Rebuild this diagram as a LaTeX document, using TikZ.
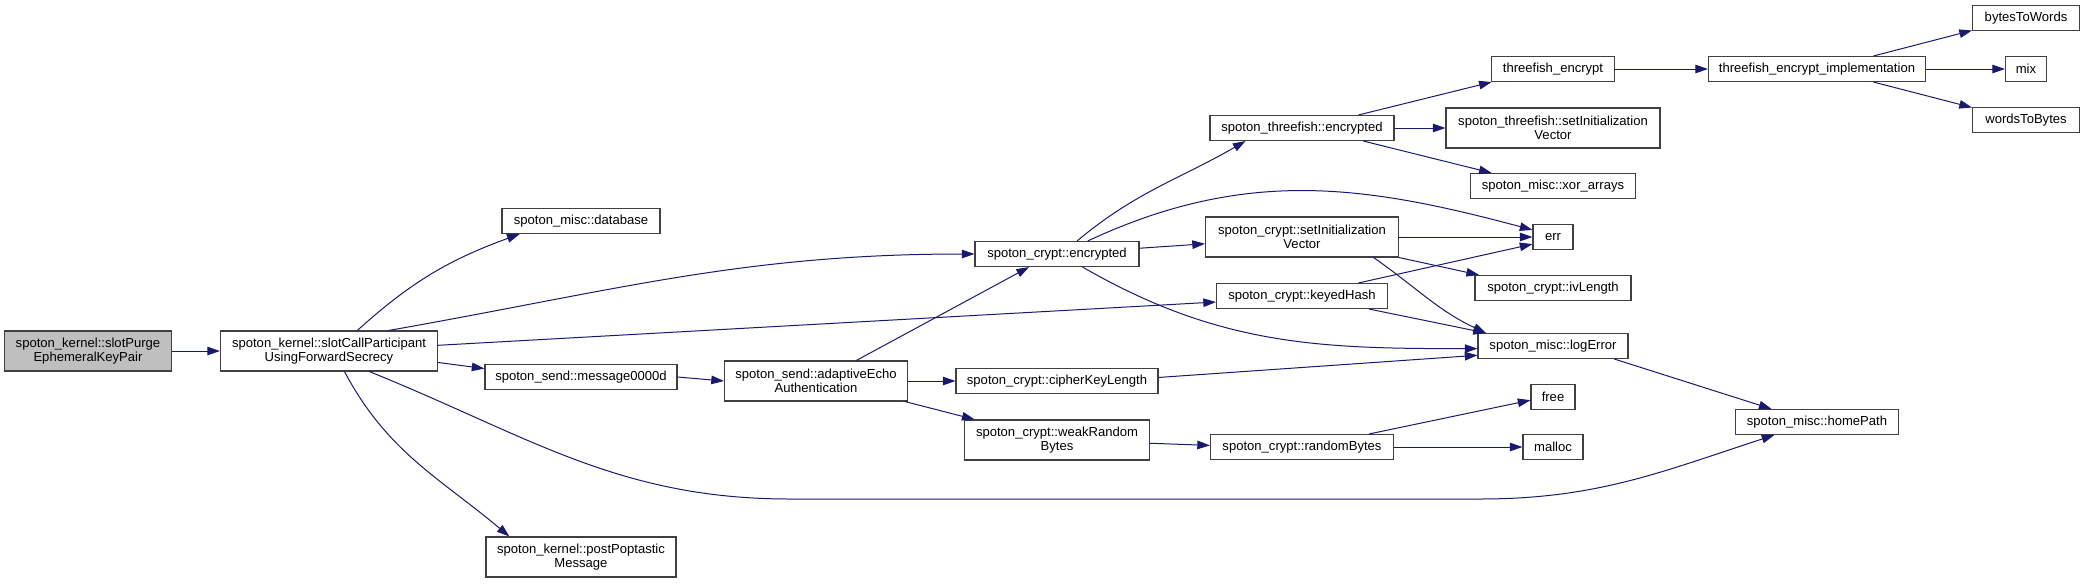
\documentclass[tikz,border=0pt]{standalone}
\usepackage{fontspec}
\setmainfont{Liberation Sans}
\usetikzlibrary{arrows.meta}
\definecolor{edgeblue}{HTML}{191970}
\definecolor{boxgray}{HTML}{404040}
\definecolor{startgray}{HTML}{BFBFBF}

\begin{document}
\begin{tikzpicture}[x=0.75pt, y=0.75pt,
    fn/.style={rectangle, draw=boxgray, line width=0.8pt, fill=white, inner sep=0pt,
      minimum height=18.75pt, align=center, font=\fontsize{9.8}{10.5}\selectfont},
    fntwo/.style={fn, minimum height=30pt},
    callarrow/.style={draw=edgeblue, line width=0.75pt, -{Triangle[length=9.5pt, width=6.4pt]}}]

    \useasboundingbox (0,0) rectangle (2085,-583);

    % Define function boxes with coordinates
    \node[fntwo, fill=startgray, minimum width=125.25pt] (purge) at (88,-351) {spoton\_kernel::slotPurge\\EphemeralKeyPair};
    \node[fntwo, minimum width=162.75pt] (slotcall) at (329,-351) {spoton\_kernel::slotCallParticipant\\UsingForwardSecrecy};
    \node[fn, minimum width=118.5pt] (db) at (581,-221) {spoton\_misc::database};
    \node[fn, minimum width=144pt] (msg) at (581,-377) {spoton\_send::message0000d};
    \node[fntwo, minimum width=142.5pt] (post) at (581,-557) {spoton\_kernel::postPoptastic\\Message};
    \node[fntwo, minimum width=137.25pt] (echo) at (816,-381) {spoton\_send::adaptiveEcho\\Authentication};
    \node[fn, minimum width=123pt] (cenc) at (1057,-254) {spoton\_crypt::encrypted};
    \node[fn, minimum width=151.5pt] (ckey) at (1057,-381) {spoton\_crypt::cipherKeyLength};
    \node[fntwo, minimum width=138.75pt] (weak) at (1057,-440) {spoton\_crypt::weakRandom\\Bytes};
    \node[fn, minimum width=138pt] (tenc) at (1302,-128) {spoton\_threefish::encrypted};
    \node[fntwo, minimum width=144.75pt] (csiv) at (1302,-237) {spoton\_crypt::setInitialization\\Vector};
    \node[fn, minimum width=128.25pt] (khash) at (1302,-296) {spoton\_crypt::keyedHash};
    \node[fn, minimum width=137.25pt] (rbytes) at (1302,-447) {spoton\_crypt::randomBytes};
    \node[fn, minimum width=92.25pt] (tfe) at (1553,-69) {threefish\_encrypt};
    \node[fntwo, minimum width=160.5pt] (tsiv) at (1553,-128) {spoton\_threefish::setInitialization\\Vector};
    \node[fn, minimum width=123.75pt] (xor) at (1553,-186) {spoton\_misc::xor\_arrays};
    \node[fn, minimum width=30pt] (err) at (1553,-237) {err};
    \node[fn, minimum width=117pt] (ivlen) at (1553,-288) {spoton\_crypt::ivLength};
    \node[fn, minimum width=112.5pt] (logerr) at (1553,-346) {spoton\_misc::logError};
    \node[fn, minimum width=33pt] (free) at (1553,-397) {free};
    \node[fn, minimum width=45pt] (malloc) at (1553,-447) {malloc};
    \node[fn, minimum width=162.75pt] (impl) at (1817,-69) {threefish\_encrypt\_implementation};
    \node[fn, minimum width=122.25pt] (home) at (1817,-422) {spoton\_misc::homePath};
    \node[fn, minimum width=80.25pt] (b2w) at (2026,-18) {bytesToWords};
    \node[fn, minimum width=30.75pt] (mix) at (2026,-69) {mix};
    \node[fn, minimum width=80.25pt] (w2b) at (2026,-120) {wordsToBytes};
    \coordinate (lowA) at (790,-499);
    \coordinate (lowB) at (1480,-499);

    % Draw the calls between the functions
    \draw[callarrow] (purge) -- (slotcall);
    \draw[callarrow] (slotcall.36) to[out=42,in=200] (db.192);
    \draw[callarrow] (slotcall.19) to[out=10,in=180] (cenc.west);
    \draw[callarrow] (slotcall.3) -- (khash.184);
    \draw[callarrow] (slotcall.-6) -- (msg.175);
    \draw[callarrow] (slotcall.-27) to[out=-22,in=180] (lowA) -- (lowB) to[out=0,in=198] (home.-163);
    \draw[callarrow] (slotcall.-53) to[out=-62,in=140] (post.164);
    \draw[callarrow] (msg.east) -- (echo.west);
    \draw[callarrow] (echo.27) -- (cenc.205);
    \draw[callarrow] (echo.east) -- (ckey.west);
    \draw[callarrow] (echo.-13) -- (weak.166);
    \draw[callarrow] (weak.-2) -- (rbytes.179);
    \draw[callarrow] (cenc.33) to[out=40,in=210] (tenc.193);
    \draw[callarrow] (cenc.23) to[out=25,in=165] (err.161);
    \draw[callarrow] (cenc.4) -- (csiv.184);
    \draw[callarrow] (cenc.-27) to[out=-30,in=180] (logerr.182);
    \draw[callarrow] (csiv.east) -- (err.west);
    \draw[callarrow] (csiv.south east) -- (ivlen.170);
    \draw[callarrow] (csiv.-16) to[out=-35,in=155] (logerr.169);
    \draw[callarrow] (khash.13) -- (err.199);
    \draw[callarrow] (khash.-11) -- (logerr.169);
    \draw[callarrow] (ckey.2) -- (logerr.187);
    \draw[callarrow] (rbytes.11) -- (free.188);
    \draw[callarrow] (rbytes.east) -- (malloc.west);
    \draw[callarrow] (logerr.-12) -- (home.164);
    \draw[callarrow] (tenc.13) -- (tfe.192);
    \draw[callarrow] (tenc.east) -- (tsiv.west);
    \draw[callarrow] (tenc.-12) -- (xor.168);
    \draw[callarrow] (tfe.east) -- (impl.west);
    \draw[callarrow] (impl.13) -- (b2w.193);
    \draw[callarrow] (impl.east) -- (mix.west);
    \draw[callarrow] (impl.-13) -- (w2b.167);

\end{tikzpicture}
\end{document}
